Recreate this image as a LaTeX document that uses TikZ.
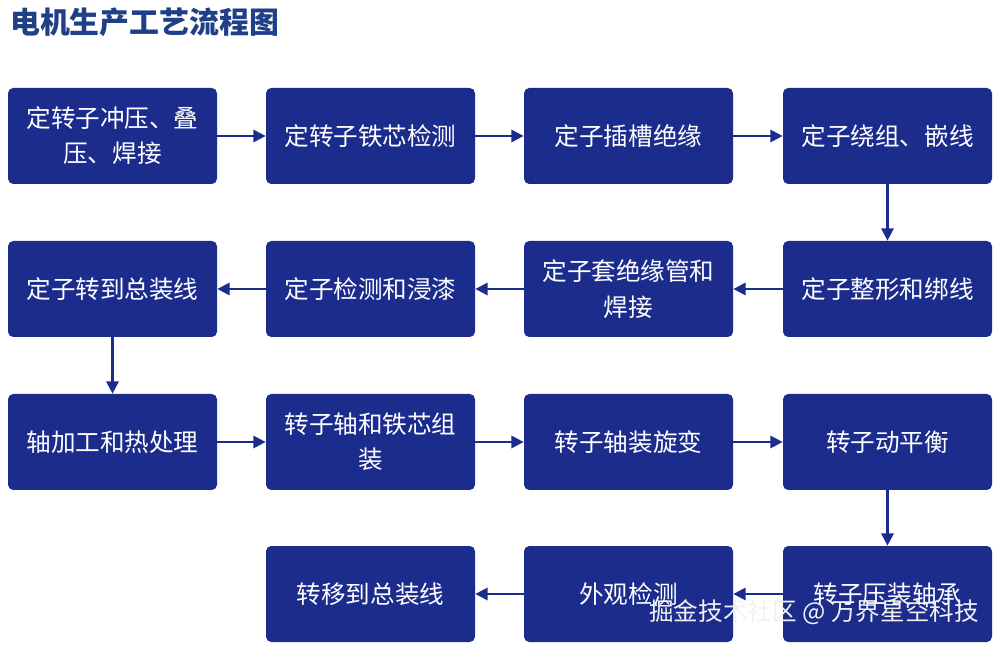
\documentclass[tikz,border=0pt]{standalone}
\usepackage{fontspec}
\setmainfont{Noto Sans CJK SC}
\usetikzlibrary{arrows.meta}
\definecolor{navy}{HTML}{1C2C8C}
\definecolor{ttl}{HTML}{1F3F86}
\begin{document}
\begin{tikzpicture}[x=0.02cm,y=-0.02cm,
  bx/.style={fill=navy,rounded corners=3pt,minimum width=209*0.02cm,minimum height=96*0.02cm,align=center,text=white,font=\fontsize{14}{20}\selectfont,inner sep=0pt},
  ar/.style={-{Triangle[length=7pt,width=7pt]},line width=1.3pt,draw=navy}]
\useasboundingbox[fill=white] (0,0) rectangle (1001,648);
\node[anchor=west,text=ttl,font=\fontsize{17}{20}\selectfont\bfseries] (t) at (4,22) {电机生产工艺流程图};
\def\cA{112.5}\def\cB{370.5}\def\cC{628.5}\def\cD{887.5}
\def\rA{136}\def\rB{289}\def\rC{442}\def\rD{594}
\node[bx] (a1) at (\cA,\rA) {定转子冲压、叠\\压、焊接};
\node[bx] (a2) at (\cB,\rA) {定转子铁芯检测};
\node[bx] (a3) at (\cC,\rA) {定子插槽绝缘};
\node[bx] (a4) at (\cD,\rA) {定子绕组、嵌线};
\node[bx] (b1) at (\cA,\rB) {定子转到总装线};
\node[bx] (b2) at (\cB,\rB) {定子检测和浸漆};
\node[bx] (b3) at (\cC,\rB) {定子套绝缘管和\\焊接};
\node[bx] (b4) at (\cD,\rB) {定子整形和绑线};
\node[bx] (c1) at (\cA,\rC) {轴加工和热处理};
\node[bx] (c2) at (\cB,\rC) {转子轴和铁芯组\\装};
\node[bx] (c3) at (\cC,\rC) {转子轴装旋变};
\node[bx] (c4) at (\cD,\rC) {转子动平衡};
\node[bx] (d2) at (\cB,\rD) {转移到总装线};
\node[bx] (d3) at (\cC,\rD) {外观检测};
\node[bx] (d4) at (\cD,\rD) {转子压装轴承};
\draw[ar] (a1) -- (a2); \draw[ar] (a2) -- (a3); \draw[ar] (a3) -- (a4);
\draw[ar] (a4) -- (b4);
\draw[ar] (b4) -- (b3); \draw[ar] (b3) -- (b2); \draw[ar] (b2) -- (b1);
\draw[ar] (b1) -- (c1);
\draw[ar] (c1) -- (c2); \draw[ar] (c2) -- (c3); \draw[ar] (c3) -- (c4);
\draw[ar] (c4) -- (d4);
\draw[ar] (d4) -- (d3); \draw[ar] (d3) -- (d2);
\node[anchor=east,text=white!90!gray,font=\fontsize{14}{16}\selectfont] (wm) at (985,612) {掘金技术社区 @ 万界星空科技};
\end{tikzpicture}
\end{document}
